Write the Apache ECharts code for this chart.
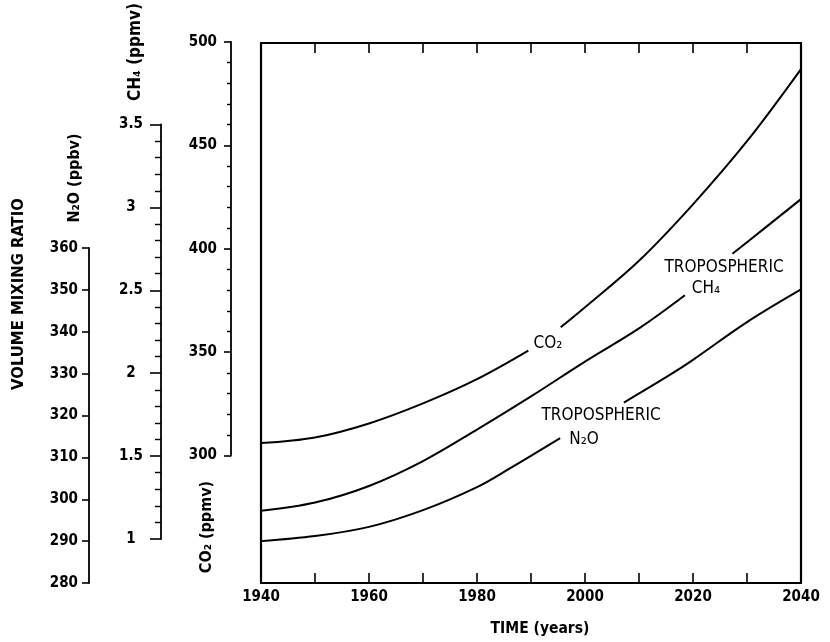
<!DOCTYPE html>
<html>
<head>
<meta charset="utf-8">
<script src="https://cdn.jsdelivr.net/npm/echarts@6/dist/echarts.min.js"></script>
<style>
  html, body { margin: 0; padding: 0; background: #fff; }
  #chart { width: 830px; height: 642px; }
</style>
</head>
<body>
<div id="chart"></div>
<script>
// ---- data ----
const co2Years  = [1940, 1950, 1960, 1970, 1980, 1989.5, 1992, 1995.5, 2000, 2010, 2020, 2030, 2040];
const co2Values = [306.0, 308.7, 315.5, 325.2, 336.9, 350.7, null, 362.0, 371.7, 394.2, 421.5, 452.0, 486.9];

const ch4Years  = [1940, 1950, 1960, 1970, 1980, 1990, 2000, 2010, 2018.5, 2023, 2027.3, 2030, 2040];
const ch4Values = [1.17, 1.22, 1.32, 1.47, 1.66, 1.86, 2.07, 2.27, 2.47, null, 2.72, 2.79, 3.05];

const n2oYears  = [1940, 1950, 1960, 1970, 1980, 1986, 1995.4, 2001, 2007.2, 2015.7, 2020, 2030, 2040];
const n2oValues = [290.0, 291.2, 293.4, 297.4, 302.9, 307.3, 314.6, null, 323.1, 329.7, 333.3, 342.3, 350.1];

const yearTicks = [1940, 1960, 1980, 2000, 2020, 2040];
const co2Ticks  = [300, 350, 400, 450, 500];
const ch4Ticks  = [1, 1.5, 2, 2.5, 3, 3.5];
const n2oTicks  = [280, 290, 300, 310, 320, 330, 340, 350, 360];

const seriesNames = ['CO₂', 'CH₄', 'N₂O'];
const annotationTexts = {
  co2: 'CO₂',
  ch4a: 'TROPOSPHERIC', ch4b: 'CH₄',
  n2oa: 'TROPOSPHERIC', n2ob: 'N₂O'
};
const axisTitles = {
  vmr: 'VOLUME MIXING RATIO',
  n2o: 'N₂O (ppbv)',
  ch4: 'CH₄ (ppmv)',
  co2: 'CO₂ (ppmv)',
  time: 'TIME (years)'
};

// ---- chart ----
const FAM = "'DejaVu Sans Condensed', 'DejaVu Sans', sans-serif";
const bold = s => 'bold ' + s + 'px ' + FAM;
const norm = s => s + 'px ' + FAM;
const black = '#000';

const pairs = (xs, vs) => xs.map((x, i) => [x, vs[i]]);
const step = a => a[1] - a[0];

const chart = echarts.init(document.getElementById('chart'), null, { renderer: 'canvas' });

const hiddenX = g => ({ gridIndex: g, type: 'value', min: yearTicks[0], max: yearTicks[yearTicks.length - 1], show: false });

const leftAxis = (g, ticks, offset, tickLen, minor, minorLen, margin, align) => ({
  gridIndex: g, type: 'value', position: 'left', offset: offset,
  min: ticks[0], max: ticks[ticks.length - 1], interval: step(ticks),
  axisLine: { show: true, onZero: false, lineStyle: { color: black, width: 1.8 } },
  axisTick: { show: true, inside: false, length: tickLen, lineStyle: { color: black, width: 1.6 } },
  minorTick: { show: minor, splitNumber: 5, length: minorLen, lineStyle: { color: black, width: 1.4 } },
  axisLabel: { show: true, margin: margin, align: align, color: black, fontFamily: FAM, fontSize: 15, fontWeight: 'bold' },
  splitLine: { show: false }, minorSplitLine: { show: false }
});

const lineSeries = (name, xi, yi, data) => ({
  name: name, type: 'line', xAxisIndex: xi, yAxisIndex: yi,
  data: data, smooth: 0.35, symbol: 'none', connectNulls: false,
  lineStyle: { color: black, width: 2 }, silent: true
});

const txt = (text, x, y, font, rot) => ({
  type: 'text', x: x, y: y, rotation: rot || 0, silent: true,
  style: { text: text, font: font, fill: black, align: 'center', verticalAlign: 'middle', textAlign: 'center', textVerticalAlign: 'middle' }
});

const option = {
  animation: false,
  backgroundColor: '#fff',
  grid: [
    { left: 261, right: 29, top: 43, bottom: 59 },          // plot frame
    { left: 261, right: 29, top: 42, height: 413.5 },       // CO2 scale
    { left: 261, right: 29, top: 124.5, height: 414.5 },    // CH4 scale
    { left: 261, right: 29, top: 248, height: 335 }         // N2O scale
  ],
  xAxis: [
    {
      gridIndex: 0, type: 'value', position: 'bottom',
      min: yearTicks[0], max: yearTicks[yearTicks.length - 1], interval: step(yearTicks) / 2,
      axisLine: { show: true, onZero: false, lineStyle: { color: black, width: 2.2 } },
      axisTick: { show: true, inside: true, length: 10, lineStyle: { color: black, width: 1.6 } },
      axisLabel: {
        show: true, margin: 7, color: black, fontFamily: FAM, fontSize: 15, fontWeight: 'bold',
        formatter: v => (yearTicks.indexOf(v) >= 0 ? String(v) : '')
      },
      splitLine: { show: false }
    },
    {
      gridIndex: 0, type: 'value', position: 'top',
      min: yearTicks[0], max: yearTicks[yearTicks.length - 1], interval: step(yearTicks) / 2,
      axisLine: { show: true, onZero: false, lineStyle: { color: black, width: 2.2 } },
      axisTick: { show: true, inside: true, length: 10, lineStyle: { color: black, width: 1.6 } },
      axisLabel: { show: false }, splitLine: { show: false }
    },
    hiddenX(1), hiddenX(2), hiddenX(3)
  ],
  yAxis: [
    { gridIndex: 0, type: 'value', position: 'left', min: 0, max: 1,
      axisLine: { show: true, onZero: false, lineStyle: { color: black, width: 2.2 } },
      axisTick: { show: false }, axisLabel: { show: false }, splitLine: { show: false } },
    { gridIndex: 0, type: 'value', position: 'right', min: 0, max: 1,
      axisLine: { show: true, onZero: false, lineStyle: { color: black, width: 2.2 } },
      axisTick: { show: false }, axisLabel: { show: false }, splitLine: { show: false } },
    leftAxis(1, co2Ticks, 30, 7, true, 4, 14, 'right'),
    leftAxis(2, ch4Ticks, 100, 11, true, 6, 30, 'center'),
    leftAxis(3, n2oTicks, 172, 7, false, 0, 11, 'right')
  ],
  series: [
    lineSeries(seriesNames[0], 2, 2, pairs(co2Years, co2Values)),
    lineSeries(seriesNames[1], 3, 3, pairs(ch4Years, ch4Values)),
    lineSeries(seriesNames[2], 4, 4, pairs(n2oYears, n2oValues))
  ],
  graphic: [
    txt(annotationTexts.co2, 548, 344, norm(17)),
    txt(annotationTexts.ch4a, 724, 268, norm(17)),
    txt(annotationTexts.ch4b, 706, 289, norm(17)),
    txt(annotationTexts.n2oa, 601, 416, norm(17)),
    txt(annotationTexts.n2ob, 584, 440, norm(17)),
    txt(axisTitles.vmr, 19, 294, bold(16.5), Math.PI / 2),
    txt(axisTitles.n2o, 75, 178, bold(16), Math.PI / 2),
    txt(axisTitles.ch4, 136, 52, bold(17), Math.PI / 2),
    txt(axisTitles.co2, 207, 527, bold(16), Math.PI / 2),
    txt(axisTitles.time, 540, 629, bold(15.5))
  ]
};

chart.setOption(option);
</script>
</body>
</html>
